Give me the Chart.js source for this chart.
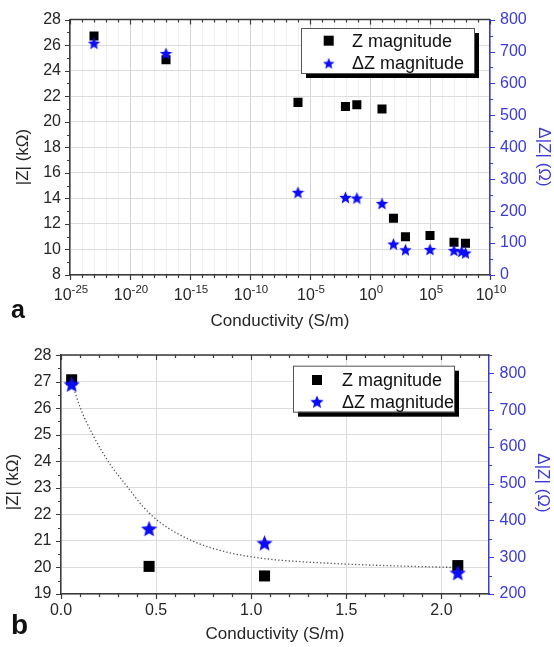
<!DOCTYPE html>
<html><head><meta charset="utf-8">
<script src="https://cdn.jsdelivr.net/npm/chart.js@4.4.1/dist/chart.umd.min.js"></script>
<style>
html,body{margin:0;padding:0;background:#fff;width:554px;height:647px;overflow:hidden;}
#wa{position:absolute;left:0;top:0;width:554px;height:335px;}
#wb{position:absolute;left:0;top:335px;width:554px;height:312px;}
canvas{display:block;}
</style></head><body>
<div id="wa"><canvas id="ca" width="554" height="335"></canvas></div>
<div id="wb"><canvas id="cb" width="554" height="312"></canvas></div>
<script>
// ===== DATA: panel a =====
const condA   = [1e-23, 1e-17, 1e-6, 0.009, 0.08, 10, 90, 900, 1e5, 1e7, 9e7];
const zMagA   = [26.72, 24.85, 21.52, 21.2, 21.33, 21.0, 12.44, 11.0, 11.1, 10.56, 10.48];
const condDA  = [1e-23, 1e-17, 1e-6, 0.009, 0.08, 10, 90, 900, 1e5, 1e7, 4.4e7, 9e7];
const dzMagA  = [726, 694, 259, 243, 241, 224, 97, 79, 80, 77, 74, 69];
const xExpLabelsA = [-25, -20, -15, -10, -5, 0, 5, 10];
const yTicksA  = [8, 10, 12, 14, 16, 18, 20, 22, 24, 26, 28];
const y2TicksA = [0, 100, 200, 300, 400, 500, 600, 700, 800];

// ===== DATA: panel b =====
const condB  = [0.056, 0.463, 1.07, 2.086];
const zMagB  = [27.07, 20.04, 19.68, 20.07];
const dzMagB = [771, 378, 339, 258];
const fitX = [0.056, 0.1, 0.17, 0.26, 0.35, 0.43, 0.52, 0.7, 0.87, 1.01, 1.14, 1.49, 1.8, 2.07];
const fitY = [27.0, 26.04, 24.96, 23.87, 23.03, 22.3, 21.7, 20.97, 20.58, 20.39, 20.28, 20.13, 20.05, 20.0];
const xTicksB  = [0.0, 0.5, 1.0, 1.5, 2.0];
const yTicksB  = [19, 20, 21, 22, 23, 24, 25, 26, 27, 28];
const y2TicksB = [200, 300, 400, 500, 600, 700, 800];

// ===== TEXT =====
const seriesNames = ['Z magnitude', '\u0394Z magnitude'];
const xTitle = 'Conductivity (S/m)';
const yTitle = '|Z| (k\u03A9)';
const y2Title = '\u0394|Z| (\u03A9)';

// ===== STYLE =====
const FONT = '"Liberation Sans", Arial, Helvetica, sans-serif';
const DARK = '#3a3a3a';
const TXT = '#262626';
const BLUE = '#3b3bd6';
const STARC = '#0c0cf5';

function makeStar(d, color) {
  const c = document.createElement('canvas');
  c.width = d; c.height = d;
  const g = c.getContext('2d');
  const R = d / 2, r = R * 0.45, cx = d / 2, cy = d / 2 + R * 0.095;
  g.beginPath();
  for (let i = 0; i < 10; i++) {
    const ang = -Math.PI / 2 + i * Math.PI / 5;
    const rad = i % 2 === 0 ? R : r;
    const px = cx + rad * Math.cos(ang), py = cy + rad * Math.sin(ang);
    if (i === 0) g.moveTo(px, py); else g.lineTo(px, py);
  }
  g.closePath(); g.fillStyle = color; g.fill();
  return c;
}

const zip = (xs, ys) => xs.map((x, i) => ({x: x, y: ys[i]}));
const near = (a, b) => Math.abs(a - b) < 1e-6;
const inList = (v, list) => list.some(t => near(t, v));

function makeDecorPlugin(spec) {
  return {
    id: 'decor',
    afterDraw(chart) {
      const ctx = chart.ctx, a = chart.chartArea;
      ctx.save();
      // tick marks
      ctx.lineWidth = 1.2;
      ctx.strokeStyle = DARK;
      ctx.beginPath();
      const sx = chart.scales.x;
      sx.ticks.forEach(t => {
        const p = Math.round(sx.getPixelForValue(t.value)) + 0.5;
        const L = spec.xMajor(t.value) ? 5 : 3;
        ctx.moveTo(p, a.bottom); ctx.lineTo(p, a.bottom + L);
        ctx.moveTo(p, a.top); ctx.lineTo(p, a.top + L);
      });
      const sy = chart.scales.y;
      sy.ticks.forEach(t => {
        const p = Math.round(sy.getPixelForValue(t.value)) + 0.5;
        const L = spec.yMajor(t.value) ? 5 : 3;
        ctx.moveTo(a.left, p); ctx.lineTo(a.left - L, p);
      });
      ctx.stroke();
      ctx.strokeStyle = BLUE;
      ctx.beginPath();
      const s2 = chart.scales.y2;
      s2.ticks.forEach(t => {
        const p = Math.round(s2.getPixelForValue(t.value)) + 0.5;
        const L = spec.y2Major(t.value) ? 5 : 3;
        ctx.moveTo(a.right, p); ctx.lineTo(a.right + L, p);
      });
      ctx.stroke();
      // top frame
      ctx.strokeStyle = DARK; ctx.lineWidth = 1.5;
      ctx.beginPath(); ctx.moveTo(a.left, a.top); ctx.lineTo(a.right, a.top); ctx.stroke();

      // custom x labels (log)
      if (spec.logLabels) {
        ctx.fillStyle = TXT;
        ctx.textBaseline = 'alphabetic';
        spec.logLabels.forEach(e => {
          const p = sx.getPixelForValue(Math.pow(10, e));
          ctx.font = '16px ' + FONT;
          const wb = ctx.measureText('10').width;
          ctx.font = '11.5px ' + FONT;
          const es = String(e);
          const we = ctx.measureText(es).width;
          const x0 = p - (wb + we) / 2 + 1;
          ctx.font = '16px ' + FONT;
          ctx.textAlign = 'left';
          ctx.fillText('10', x0, spec.logBase);
          ctx.font = '11.5px ' + FONT;
          ctx.fillText(es, x0 + wb, spec.logBase - 7.5);
        });
      }

      // titles
      ctx.fillStyle = TXT;
      ctx.font = '17px ' + FONT;
      ctx.textAlign = 'center';
      ctx.textBaseline = 'alphabetic';
      ctx.fillText(xTitle, (a.left + a.right) / 2, spec.xTitleY);
      ctx.save();
      ctx.translate(spec.yTitle[0], spec.yTitle[1]);
      ctx.rotate(-Math.PI / 2);
      ctx.textBaseline = 'middle';
      ctx.fillText(yTitle, 0, 0);
      ctx.restore();
      ctx.save();
      ctx.fillStyle = BLUE;
      ctx.translate(spec.y2Title[0], spec.y2Title[1]);
      ctx.rotate(Math.PI / 2);
      ctx.textBaseline = 'middle';
      ctx.fillText(y2Title, 0, 0);
      ctx.restore();
      // panel letter
      ctx.fillStyle = '#111';
      ctx.font = 'bold ' + spec.letterSize + 'px ' + FONT;
      ctx.textAlign = 'left';
      ctx.fillText(spec.letter, spec.letterPos[0], spec.letterPos[1]);

      // legend
      const L = spec.legend;
      ctx.fillStyle = '#000';
      ctx.fillRect(L.x + 5, L.y + 5, L.w, L.h);
      ctx.fillStyle = '#fff';
      ctx.fillRect(L.x, L.y, L.w, L.h);
      ctx.strokeStyle = '#555'; ctx.lineWidth = 1;
      ctx.strokeRect(L.x + 0.5, L.y + 0.5, L.w, L.h);
      ctx.fillStyle = '#000';
      ctx.fillRect(L.mx - L.sq / 2, L.r1 - L.sq / 2, L.sq, L.sq);
      const st = L.star;
      ctx.drawImage(st, L.mx - st.width / 2, L.r2 - st.height / 2);
      ctx.fillStyle = '#111';
      ctx.font = '18px ' + FONT;
      ctx.textBaseline = 'middle';
      ctx.textAlign = 'left';
      const ds = chart.data.datasets;
      ctx.fillText(ds.find(d => d.key === 'z').label, L.tx, L.r1 + 1);
      ctx.fillText(ds.find(d => d.key === 'dz').label, L.tx, L.r2 + 1);
      ctx.restore();
    }
  };
}

const tickFont = {family: FONT, size: 16};

// ================= Panel a =================
const decadesA = [];
for (let e = xExpLabelsA[0]; e <= xExpLabelsA[xExpLabelsA.length - 1]; e++) decadesA.push(Math.pow(10, e));
const expOf = v => Math.round(Math.log10(v));

new Chart(document.getElementById('ca'), {
  type: 'scatter',
  data: {
    datasets: [
      {key: 'dz', label: seriesNames[1], data: zip(condDA, dzMagA), yAxisID: 'y2', order: 0,
       pointStyle: makeStar(13, STARC), pointRadius: 6, backgroundColor: STARC, borderWidth: 0},
      {key: 'z', label: seriesNames[0], data: zip(condA, zMagA), yAxisID: 'y', order: 1,
       pointStyle: 'rect', pointRadius: 6.4, backgroundColor: '#000', borderColor: '#000', borderWidth: 0}
    ]
  },
  options: {
    responsive: false, animation: false, events: [],
    layout: {padding: {top: 15, left: 0, right: 0, bottom: 0}},
    plugins: {legend: {display: false}, tooltip: {enabled: false}},
    scales: {
      x: {
        type: 'logarithmic', position: 'bottom', min: 1e-25, max: 1e10,
        afterBuildTicks: s => { s.ticks = decadesA.map(v => ({value: v})); },
        afterFit: s => { s.height = 60; },
        ticks: {display: false},
        grid: {drawTicks: false, color: c => (expOf(c.tick.value) % 5 === 0) ? '#d2d2d2' : '#efefef', lineWidth: 1},
        border: {color: DARK, width: 1.5}
      },
      y: {
        position: 'left', min: 8, max: 28,
        afterBuildTicks: s => { const t = []; for (let v = 8; v <= 28; v++) t.push({value: v}); s.ticks = t; },
        afterFit: s => { s.width = 70; },
        ticks: {font: tickFont, color: TXT, padding: 9, autoSkip: false,
                callback: v => inList(v, yTicksA) ? String(v) : ''},
        grid: {drawTicks: false, color: c => inList(c.tick.value, yTicksA) ? '#dcdcdc' : 'rgba(0,0,0,0)'},
        border: {color: DARK, width: 1.5}
      },
      y2: {
        position: 'right', min: 0, max: 800,
        afterBuildTicks: s => { const t = []; for (let v = 0; v <= 800; v += 50) t.push({value: v}); s.ticks = t; },
        afterFit: s => { s.width = 64; },
        ticks: {font: tickFont, color: BLUE, padding: 10, autoSkip: false,
                callback: v => inList(v, y2TicksA) ? String(v) : ''},
        grid: {display: false, drawTicks: false},
        border: {color: BLUE, width: 1.5}
      }
    }
  },
  plugins: [makeDecorPlugin({
    xMajor: v => expOf(v) % 5 === 0,
    yMajor: v => inList(v, yTicksA),
    y2Major: v => inList(v, y2TicksA),
    logLabels: xExpLabelsA, logBase: 300,
    xTitleY: 326, yTitle: [23, 157], y2Title: [543.5, 157],
    letter: 'a', letterSize: 25, letterPos: [11, 318],
    legend: {x: 301, y: 28, w: 173, h: 45, mx: 328.7, r1: 40.7, r2: 63.3, tx: 352, sq: 10, star: makeStar(12, STARC)}
  })]
});

// ================= Panel b =================
new Chart(document.getElementById('cb'), {
  type: 'scatter',
  data: {
    datasets: [
      {key: 'dz', label: seriesNames[1], data: zip(condB, dzMagB), yAxisID: 'y2', order: 0,
       pointStyle: makeStar(17, STARC), pointRadius: 7, backgroundColor: STARC, borderWidth: 0},
      {key: 'z', label: seriesNames[0], data: zip(condB, zMagB), yAxisID: 'y', order: 1,
       pointStyle: 'rect', pointRadius: 7.8, backgroundColor: '#000', borderColor: '#000', borderWidth: 0},
      {key: 'fit', label: 'fit', data: zip(fitX, fitY), yAxisID: 'y', order: 2, showLine: true,
       pointRadius: 0, borderColor: '#555', borderWidth: 1.3, borderDash: [1.3, 2.2],
       cubicInterpolationMode: 'monotone', fill: false}
    ]
  },
  options: {
    responsive: false, animation: false, events: [],
    layout: {padding: {top: 11, left: 0, right: 0, bottom: 0}},
    plugins: {legend: {display: false}, tooltip: {enabled: false}},
    scales: {
      x: {
        type: 'linear', position: 'bottom', min: 0, max: 2.25,
        afterBuildTicks: s => { const t = []; for (let i = 0; i <= 22; i++) t.push({value: i / 10}); s.ticks = t; },
        afterFit: s => { s.height = 53; },
        ticks: {font: tickFont, color: TXT, padding: 7, autoSkip: false, maxRotation: 0, minRotation: 0,
                callback: v => inList(v, xTicksB) ? v.toFixed(1) : ''},
        grid: {drawTicks: false, color: c => inList(c.tick.value, xTicksB) ? '#dcdcdc' : 'rgba(0,0,0,0)'},
        border: {color: DARK, width: 1.5}
      },
      y: {
        position: 'left', min: 19, max: 28,
        afterBuildTicks: s => { const t = []; for (let v = 19; v <= 28.001; v += 0.5) t.push({value: v}); s.ticks = t; },
        afterFit: s => { s.width = 61; },
        ticks: {font: tickFont, color: TXT, padding: 9.5, autoSkip: false,
                callback: v => inList(v, yTicksB) ? String(v) : ''},
        grid: {drawTicks: false, color: c => inList(c.tick.value, yTicksB) ? '#dcdcdc' : 'rgba(0,0,0,0)'},
        border: {color: DARK, width: 1.5}
      },
      y2: {
        position: 'right', min: 200, max: 850,
        afterBuildTicks: s => { const t = []; for (let v = 200; v <= 850; v += 50) t.push({value: v}); s.ticks = t; },
        afterFit: s => { s.width = 65; },
        ticks: {font: tickFont, color: BLUE, padding: 10.5, autoSkip: false,
                callback: v => inList(v, y2TicksB) ? String(v) : ''},
        grid: {display: false, drawTicks: false},
        border: {color: BLUE, width: 1.5}
      }
    }
  },
  plugins: [makeDecorPlugin({
    xMajor: v => inList(v, xTicksB),
    yMajor: v => inList(v, yTicksB),
    y2Major: v => inList(v, y2TicksB),
    logLabels: null,
    xTitleY: 304, yTitle: [13.5, 147], y2Title: [542.5, 148],
    letter: 'b', letterSize: 28, letterPos: [11, 299],
    legend: {x: 293, y: 30.7, w: 161, h: 46, mx: 317, r1: 45, r2: 66.7, tx: 342, sq: 10, star: makeStar(14, STARC)}
  })]
});
</script>
</body></html>
